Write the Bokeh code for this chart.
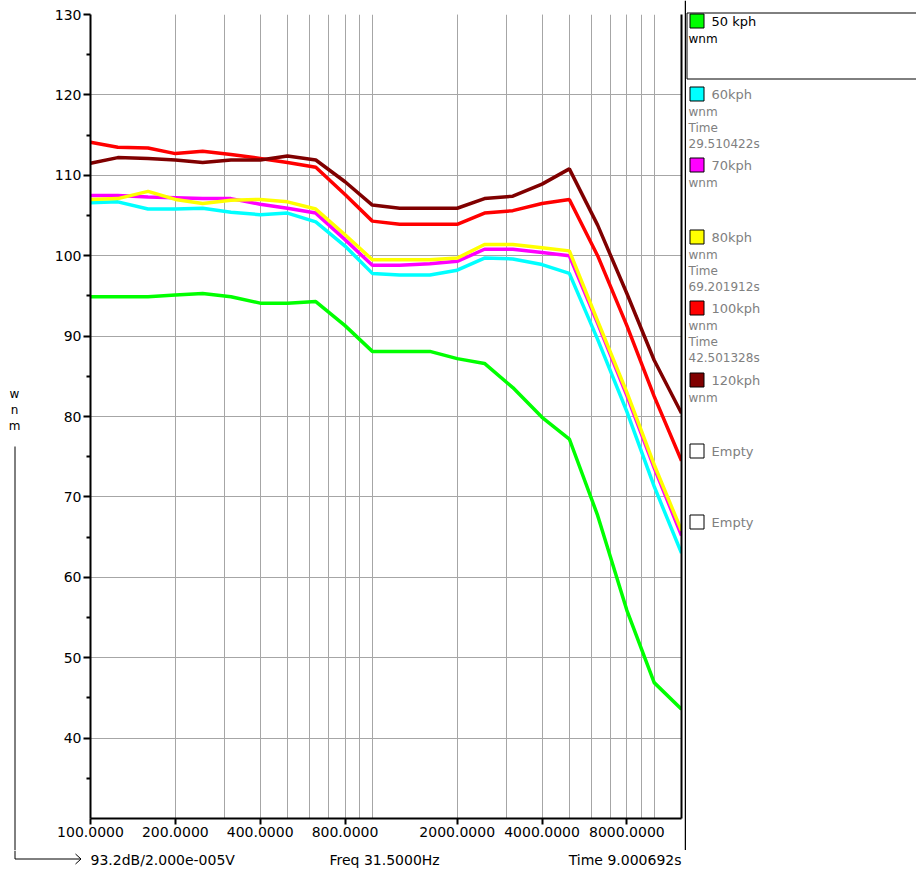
from bokeh.plotting import figure
from bokeh.layouts import row, column
from bokeh.models import Range1d, FixedTicker, PrintfTickFormatter, LinearAxis
from bokeh.core.properties import value
from bokeh.embed import file_html
from bokeh.resources import INLINE

# ---------------- data ----------------
freqs = [100, 125, 160, 200, 250, 315, 400, 500, 630, 800, 1000, 1250, 1600,
         2000, 2500, 3150, 4000, 5000, 6300, 8000, 10000, 12500]

kph50 = [94.9, 94.9, 94.9, 95.1, 95.3, 94.9, 94.1, 94.1, 94.3, 91.3, 88.1, 88.1,
         88.1, 87.2, 86.6, 83.6, 79.9, 77.2, 67.7, 55.9, 46.9, 43.6]
kph60 = [106.6, 106.7, 105.8, 105.8, 105.9, 105.4, 105.1, 105.3, 104.2, 101.2, 97.8,
         97.6, 97.6, 98.2, 99.7, 99.6, 98.9, 97.8, 89.6, 80.6, 71.3, 63.0]
kph70 = [107.5, 107.5, 107.3, 107.2, 107.1, 107.1, 106.4, 105.9, 105.3, 102.0, 98.8,
         98.8, 99.0, 99.3, 100.8, 100.8, 100.4, 100.0, 91.6, 82.6, 73.6, 65.2]
kph80 = [107.0, 107.1, 108.0, 107.0, 106.5, 106.9, 107.0, 106.7, 105.8, 102.6, 99.5,
         99.5, 99.5, 99.7, 101.4, 101.4, 101.0, 100.6, 91.9, 83.0, 74.0, 65.8]
kph100 = [114.1, 113.5, 113.4, 112.7, 113.0, 112.6, 112.1, 111.6, 111.0, 107.6, 104.3,
          103.9, 103.9, 103.9, 105.3, 105.6, 106.5, 107.0, 100.0, 91.3, 82.5, 74.5]
kph120 = [111.5, 112.2, 112.1, 111.9, 111.6, 111.9, 111.9, 112.4, 111.9, 109.2, 106.3,
          105.9, 105.9, 105.9, 107.1, 107.4, 108.9, 110.8, 103.8, 95.3, 87.0, 80.4]

series = [kph50, kph60, kph70, kph80, kph100, kph120]
colors = ["#00ff00", "#00ffff", "#ff00ff", "#ffff00", "#ff0000", "#800000"]

legend_names = ["50 kph", "60kph", "70kph", "80kph", "100kph", "120kph", "Empty", "Empty"]
legend_fill = colors + ["#ffffff", "#ffffff"]
legend_sub = [["wnm"], ["wnm", "Time", "29.510422s"], ["wnm"],
              ["wnm", "Time", "69.201912s"], ["wnm", "Time", "42.501328s"],
              ["wnm"], [], []]

x_major = [100, 200, 400, 800, 2000, 4000, 8000]
x_minor = [100, 200, 300, 400, 500, 600, 700, 800, 900,
           1000, 2000, 3000, 4000, 5000, 6000, 7000, 8000, 9000, 10000]
y_major = [40, 50, 60, 70, 80, 90, 100, 110, 120, 130]
y_minor = [35, 45, 55, 65, 75, 85, 95, 105, 115, 125]

y_title = ["w", "n", "m"]
foot_texts = ["93.2dB/2.000e-005V", "Freq 31.5000Hz", "Time 9.000692s"]

FONT = "DejaVu Sans"
GRID = "#a6a6a6"

# ---------------- main chart ----------------
p = figure(x_axis_type="log", output_backend="svg", toolbar_location=None,
           frame_width=591, frame_height=804,
           min_border_left=45, min_border_top=14, min_border_right=3,
           min_border_bottom=32,
           x_range=Range1d(100, 12500), y_range=Range1d(30, 130),
           background_fill_color="white", border_fill_color="white")
p.outline_line_color = None

for vals, col in zip(series, colors):
    p.line(freqs, vals, line_color=col, line_width=3.5)

xa = p.xaxis[0]
xa.ticker = FixedTicker(ticks=x_major, minor_ticks=x_minor)
xa.formatter = PrintfTickFormatter(format="%.4f")
xa.axis_line_width = 2
xa.axis_line_color = "black"
xa.major_tick_line_color = "black"
xa.major_tick_line_width = 2
xa.major_tick_out = 6
xa.major_tick_in = 0
xa.minor_tick_line_color = None
xa.minor_tick_out = 0
xa.major_label_standoff = 2
xa.major_label_text_font = FONT
xa.major_label_text_font_size = "14px"
xa.major_label_text_color = "black"

ya = p.yaxis[0]
ya.ticker = FixedTicker(ticks=y_major, minor_ticks=y_minor)
ya.axis_line_width = 2
ya.axis_line_color = "black"
ya.major_tick_line_color = "black"
ya.major_tick_line_width = 2
ya.major_tick_out = 7
ya.major_tick_in = 0
ya.minor_tick_line_color = "black"
ya.minor_tick_line_width = 2
ya.minor_tick_out = 4
ya.minor_tick_in = 0
ya.major_label_standoff = 2
ya.major_label_text_font = FONT
ya.major_label_text_font_size = "14px"
ya.major_label_text_color = "black"

ra = LinearAxis(ticker=FixedTicker(ticks=[]), axis_line_width=2, axis_line_color="black",
                major_tick_out=0, major_tick_in=0, minor_tick_out=0, minor_tick_in=0,
                major_label_standoff=0)
p.add_layout(ra, "right")

p.xgrid.grid_line_color = GRID
p.xgrid.minor_grid_line_color = GRID
p.ygrid.grid_line_color = GRID


def blank(w, h, xr, yr):
    f = figure(width=w, height=h, x_range=Range1d(*xr), y_range=Range1d(*yr),
               x_axis_type=None, y_axis_type=None, min_border=0,
               output_backend="svg", toolbar_location=None,
               background_fill_color="white", border_fill_color="white")
    f.outline_line_color = None
    f.xgrid.visible = False
    f.ygrid.visible = False
    return f


# ---------------- left strip (y-axis title + arrow stem) ----------------
left = blank(45, 850, (0, 45), (850, 0))
left.text(x=[14] * len(y_title), y=[393 + 16 * i for i in range(len(y_title))],
          text=y_title, text_font=value(FONT), text_font_size="12px",
          text_color="black", text_align="center", text_baseline="middle")
left.segment(x0=[14.5], y0=[446], x1=[14.5], y1=[850], line_color="black", line_width=1)

# ---------------- legend panel ----------------
LX0, LX1 = 684, 916
leg = blank(LX1 - LX0, 850, (LX0, LX1), (850, 0))
leg.segment(x0=[684.75], y0=[0], x1=[684.75], y1=[850], line_color="black", line_width=1.5)
leg.quad(left=[686.5], right=[940], top=[12.5], bottom=[78.5],
         fill_color=None, line_color="black", line_width=1)

item_tops = [13, 86, 157, 229, 300, 372, 443, 514]
leg.quad(left=[689.5] * len(item_tops), right=[703.5] * len(item_tops),
         top=[t + 0.5 for t in item_tops], bottom=[t + 14.5 for t in item_tops],
         fill_color=legend_fill, line_color="black", line_width=1)
name_cols = ["black"] + ["#808080"] * (len(legend_names) - 1)
leg.text(x=[711] * len(legend_names), y=[t + 7.5 for t in item_tops], text=legend_names,
         text_color=name_cols, text_font=value(FONT), text_font_size="13px",
         text_align="left", text_baseline="middle")
sx, sy, st, sc = [], [], [], []
for k, (subs, top) in enumerate(zip(legend_sub, item_tops)):
    for j, s in enumerate(subs):
        sx.append(688)
        sy.append(top + 25 + 16 * j)
        st.append(s)
        sc.append("black" if k == 0 else "#808080")
leg.text(x=sx, y=sy, text=st, text_color=sc, text_font=value(FONT),
         text_font_size="12px", text_align="left", text_baseline="middle")

# ---------------- bottom strip (arrow + info texts) ----------------
bot = blank(916, 19, (0, 916), (869, 850))
bot.multi_line(xs=[[14.5, 14.5, 80], [75, 80.5, 75]], ys=[[850, 858.5, 858.5], [853.5, 858.5, 863.5]],
               line_color="black", line_width=1)
bot.text(x=[90, 329, 681], y=[859, 859, 859], text=foot_texts,
         text_align=["left", "left", "right"], text_color="black",
         text_font=value(FONT), text_font_size="14px", text_baseline="middle")

layout = column(row(column(left), column(p), column(leg), spacing=0), bot, spacing=0)
open("out.html", "w").write(file_html(layout, INLINE))
